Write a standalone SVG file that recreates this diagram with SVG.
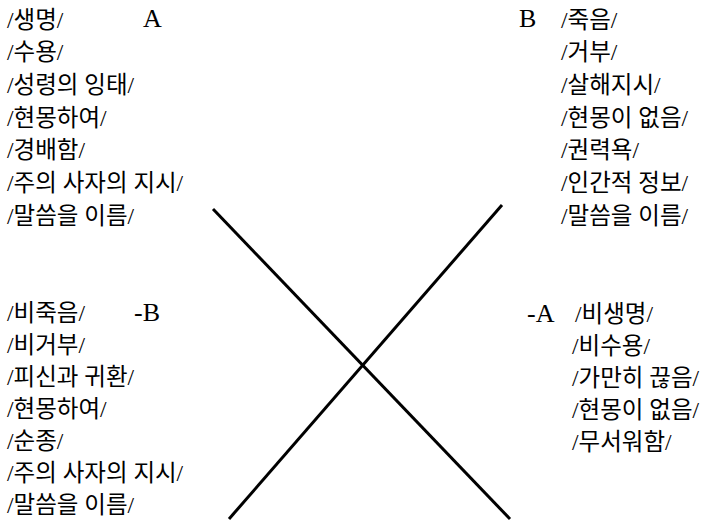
<svg xmlns="http://www.w3.org/2000/svg" width="705" height="524" viewBox="0 0 705 524">
<style>
text{font-family:"Liberation Serif","Noto Sans CJK KR",serif;font-size:23.5px;fill:#000}
text.l{font-size:26px}
.ln{stroke:#000;stroke-width:3;stroke-linecap:butt}
</style>
<rect width="705" height="524" fill="#fff"/>
<g id="nodeA">
<text x="7" y="27.5">/생명/</text>
<text class="l" x="143" y="27">A</text>
<text x="7" y="60">/수용/</text>
<text x="7" y="93">/성령의 잉태/</text>
<text x="7" y="125.5">/현몽하여/</text>
<text x="7" y="158">/경배함/</text>
<text x="7" y="191">/주의 사자의 지시/</text>
<text x="7" y="223.5">/말씀을 이름/</text>
</g>
<g id="nodeB">
<text class="l" x="519" y="27">B</text>
<text x="561" y="27.5">/죽음/</text>
<text x="561" y="60">/거부/</text>
<text x="561" y="93">/살해지시/</text>
<text x="561" y="125.5">/현몽이 없음/</text>
<text x="561" y="158">/권력욕/</text>
<text x="561" y="191">/인간적 정보/</text>
<text x="561" y="223.5">/말씀을 이름/</text>
</g>
<g id="nodeNotB">
<text x="7" y="320.5">/비죽음/</text>
<text class="l" x="134" y="321">-B</text>
<text x="7" y="352.5">/비거부/</text>
<text x="7" y="384.5">/피신과 귀환/</text>
<text x="7" y="416.5">/현몽하여/</text>
<text x="7" y="448.5">/순종/</text>
<text x="7" y="480.5">/주의 사자의 지시/</text>
<text x="7" y="513">/말씀을 이름/</text>
</g>
<g id="nodeNotA">
<text class="l" x="527" y="322">-A</text>
<text x="575" y="321.5">/비생명/</text>
<text x="572" y="354">/비수용/</text>
<text x="572" y="386">/가만히 끊음/</text>
<text x="572" y="418">/현몽이 없음/</text>
<text x="572" y="450">/무서워함/</text>
</g>
<g id="connectors">
<line class="ln" x1="213" y1="209" x2="510" y2="519"/>
<line class="ln" x1="502" y1="205" x2="229" y2="519"/>
</g>
</svg>
